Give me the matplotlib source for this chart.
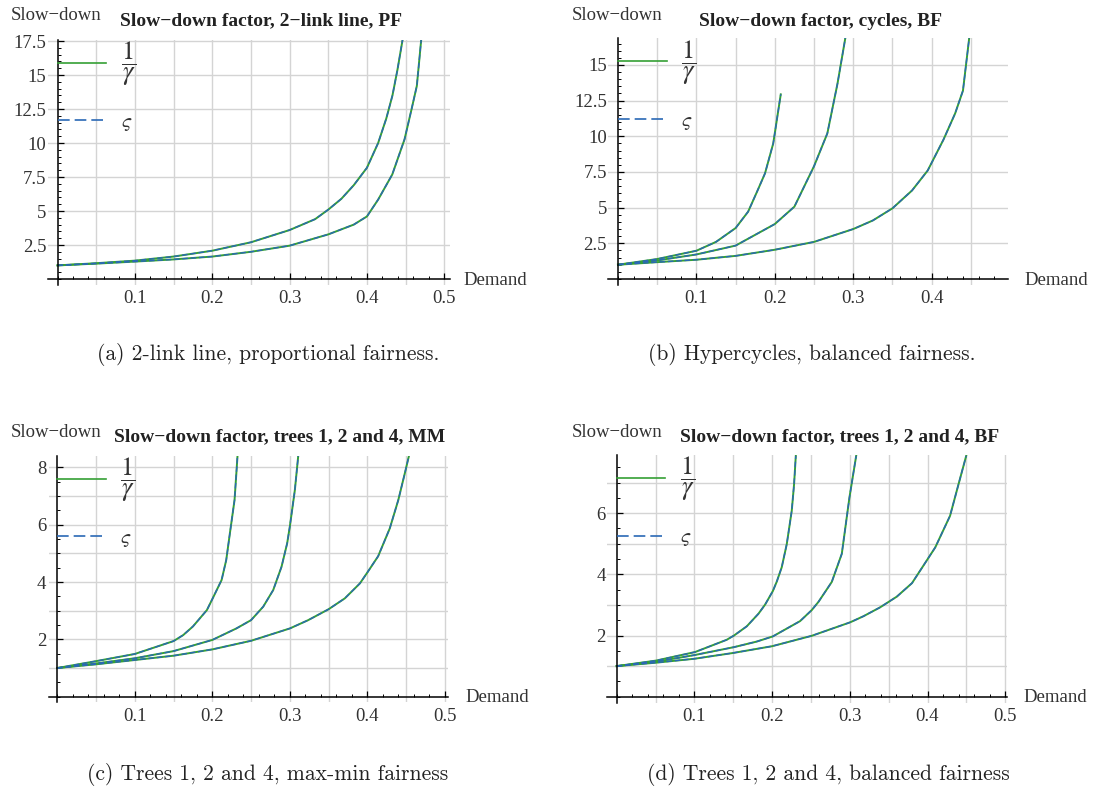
import numpy as np
import matplotlib
matplotlib.use("Agg")
import matplotlib.pyplot as plt
from matplotlib.lines import Line2D
from matplotlib.ticker import FixedLocator, MultipleLocator

plt.rcParams['font.family'] = ['Liberation Serif', 'DejaVu Serif']
plt.rcParams['mathtext.fontset'] = 'stix'

W, H = 1101, 789
GREEN = '#35a035'
BLUE = '#2a68b5'
GRID = '#d4d4d4'

# ---------------------------------------------------------------
# data; 1/gamma and varsigma coincide, so each
# curve is drawn twice (green solid + blue dashed) from the same values
# ---------------------------------------------------------------
# (a) 2-link line, PF
a1_x = [0, 0.05, 0.1, 0.15, 0.2, 0.25, 0.3, 0.333, 0.35, 0.367, 0.383, 0.4, 0.4145, 0.425, 0.433, 0.4395, 0.4464]
a1_y = [1, 1.16, 1.35, 1.65, 2.08, 2.7, 3.6, 4.4, 5.1, 5.9, 6.9, 8.18, 10.0, 11.8, 13.5, 15.4, 17.7]
a2_x = [0, 0.05, 0.1, 0.15, 0.2, 0.25, 0.3, 0.35, 0.383, 0.4, 0.4145, 0.4327, 0.4486, 0.4577, 0.4645, 0.4705]
a2_y = [1, 1.13, 1.28, 1.44, 1.65, 2.0, 2.45, 3.28, 4.0, 4.6, 5.84, 7.68, 10.27, 12.49, 14.2, 17.8]

# (b) hypercycles, BF
b1_x = [0, 0.05, 0.1, 0.125, 0.15, 0.166, 0.178, 0.1875, 0.198, 0.2076]
b1_y = [1, 1.4, 1.98, 2.6, 3.57, 4.72, 6.2, 7.4, 9.5, 12.94]
b2_x = [0, 0.05, 0.1, 0.15, 0.2, 0.225, 0.25, 0.267, 0.28, 0.29]
b2_y = [1, 1.3, 1.72, 2.34, 3.85, 5.07, 7.9, 10.2, 13.7, 16.9]
b3_x = [0, 0.05, 0.1, 0.15, 0.2, 0.25, 0.3, 0.325, 0.35, 0.375, 0.395, 0.415, 0.43, 0.44, 0.448]
b3_y = [1, 1.18, 1.35, 1.62, 2.05, 2.6, 3.5, 4.1, 4.95, 6.2, 7.6, 9.75, 11.6, 13.2, 16.9]

# (c) trees 1, 2 and 4, MM
c1_x = [0, 0.05, 0.1, 0.15, 0.1625, 0.175, 0.193, 0.2016, 0.212, 0.218, 0.2227, 0.2287, 0.2313, 0.2326]
c1_y = [1, 1.24, 1.49, 1.94, 2.15, 2.45, 3.02, 3.49, 4.07, 4.77, 5.7, 6.86, 7.9, 8.43]
c2_x = [0, 0.05, 0.1, 0.15, 0.2, 0.231, 0.25, 0.2657, 0.2786, 0.2893, 0.2966, 0.3, 0.3065, 0.311]
c2_y = [1, 1.16, 1.34, 1.59, 1.98, 2.38, 2.67, 3.14, 3.72, 4.53, 5.35, 5.93, 7.2, 8.43]
c3_x = [0, 0.05, 0.1, 0.15, 0.2, 0.25, 0.3, 0.3237, 0.35, 0.371, 0.3904, 0.4, 0.414, 0.429, 0.44, 0.4484, 0.454]
c3_y = [1, 1.13, 1.28, 1.43, 1.65, 1.95, 2.38, 2.67, 3.05, 3.43, 3.95, 4.33, 4.9, 5.87, 6.86, 7.79, 8.43]

# (d) trees 1, 2 and 4, BF
d1_x = [0, 0.0506, 0.1009, 0.1416, 0.151, 0.1674, 0.1824, 0.191, 0.2009, 0.206, 0.2124, 0.2189, 0.2253, 0.2283, 0.2305]
d1_y = [1, 1.18, 1.46, 1.86, 2.0, 2.3, 2.71, 3.01, 3.45, 3.76, 4.23, 4.99, 6.08, 6.95, 7.87]
d2_x = [0, 0.05, 0.1, 0.151, 0.18, 0.2009, 0.236, 0.251, 0.2597, 0.2768, 0.2897, 0.2996, 0.3082]
d2_y = [1, 1.14, 1.36, 1.62, 1.8, 1.97, 2.47, 2.83, 3.1, 3.75, 4.67, 6.52, 7.87]
d3_x = [0, 0.05, 0.1, 0.15, 0.2, 0.251, 0.3004, 0.3176, 0.339, 0.3605, 0.38, 0.399, 0.41, 0.429, 0.44, 0.4498]
d3_y = [1, 1.11, 1.24, 1.43, 1.65, 1.99, 2.43, 2.63, 2.92, 3.27, 3.71, 4.45, 4.88, 5.91, 6.95, 7.87]

titles = ["Slow\u2212down factor, 2\u2212link line, PF",
          "Slow\u2212down factor, cycles, BF",
          "Slow\u2212down factor, trees 1, 2 and 4, MM",
          "Slow\u2212down factor, trees 1, 2 and 4, BF"]
captions = ["(a) 2-link line, proportional fairness.",
            "(b) Hypercycles, balanced fairness.",
            "(c) Trees 1, 2 and 4, max-min fairness",
            "(d) Trees 1, 2 and 4, balanced fairness"]
xticks_ab = [0.1, 0.2, 0.3, 0.4, 0.5]
xticks_b = [0.1, 0.2, 0.3, 0.4]
yticks_a = [2.5, 5, 7.5, 10, 12.5, 15, 17.5]
yticks_b = [2.5, 5, 7.5, 10, 12.5, 15]
yticks_c = [2, 4, 6, 8]
yticks_d = [2, 4, 6]

panels = [
    dict(curves=[(a1_x, a1_y), (a2_x, a2_y)], xt=xticks_ab, yt=yticks_a, ygrid=2.5,
         x0=57.5, sx=773.6, y0=279, sy=13.6, xlim=(-0.0128, 0.507), ylim=(-0.44, 17.6),
         title_c=(260.5, 21), sd=(10.6, 15), dem=(463, 280), cap=(268, 355)),
    dict(curves=[(b1_x, b1_y), (b2_x, b2_y), (b3_x, b3_y)], xt=xticks_b, yt=yticks_b, ygrid=2.5,
         x0=618, sx=784, y0=279, sy=14.27, xlim=(-0.0125, 0.498), ylim=(-0.4, 16.87),
         title_c=(820.5, 21), sd=(572, 15), dem=(1024, 280), cap=(812, 355)),
    dict(curves=[(c1_x, c1_y), (c2_x, c2_y), (c3_x, c3_y)], xt=xticks_ab, yt=yticks_c, ygrid=1,
         x0=57.3, sx=775, y0=696.7, sy=28.67, xlim=(-0.0113, 0.5045), ylim=(-0.2, 8.41),
         title_c=(280, 437), sd=(10.6, 433), dem=(465, 697), cap=(268, 775)),
    dict(curves=[(d1_x, d1_y), (d2_x, d2_y), (d3_x, d3_y)], xt=xticks_ab, yt=yticks_d, ygrid=1,
         x0=616.7, sx=777, y0=696.7, sy=30.6, xlim=(-0.0126, 0.5025), ylim=(-0.2, 7.9),
         title_c=(839.5, 437), sd=(572, 433), dem=(1023, 697), cap=(828, 775)),
]


def fmt(v):
    return ('%g' % v)


fig = plt.figure(figsize=(W / 100, H / 100), dpi=100)

for i, p in enumerate(panels):
    ax = fig.add_axes([0, 0, 1, 1])
    xl, yl = p['xlim'], p['ylim']
    left = p['x0'] + xl[0] * p['sx']
    right = p['x0'] + xl[1] * p['sx']
    top = p['y0'] - yl[1] * p['sy']
    bottom = p['y0'] - yl[0] * p['sy']
    ax.set_position([left / W, 1 - bottom / H, (right - left) / W, (bottom - top) / H])
    ax.set_xlim(*xl)
    ax.set_ylim(*yl)
    ax.patch.set_visible(False)

    # grid (every 0.05 in x, every major step in y)
    for g in np.arange(0.05, xl[1] + 1e-9, 0.05):
        ax.axvline(g, color=GRID, lw=1.0, zorder=0)
    for g in np.arange(p['ygrid'], yl[1] + 1e-9, p['ygrid']):
        ax.axhline(g, color=GRID, lw=1.0, zorder=0)

    for cx, cy in p['curves']:
        ax.plot(cx, cy, color=GREEN, lw=1.4, zorder=3)
        ax.plot(cx, cy, color=BLUE, lw=1.0, dashes=(4, 2), zorder=4)

    for s in ('top', 'right'):
        ax.spines[s].set_visible(False)
    for s in ('left', 'bottom'):
        ax.spines[s].set_position(('data', 0))
        ax.spines[s].set_linewidth(1.1)
        ax.spines[s].set_zorder(5)

    ax.xaxis.set_major_locator(FixedLocator(p['xt']))
    ax.set_xticklabels([fmt(v) for v in p['xt']])
    ax.yaxis.set_major_locator(FixedLocator(p['yt']))
    ax.set_yticklabels([fmt(v) for v in p['yt']])
    ax.xaxis.set_minor_locator(MultipleLocator(0.02))
    ax.yaxis.set_minor_locator(MultipleLocator(0.5))
    ax.tick_params(which='both', direction='in', labelsize=13.5, labelcolor='#333333')
    ax.tick_params(which='major', length=4.5, width=0.9)
    ax.tick_params(which='minor', length=2.3, width=0.7)
    ax.tick_params(axis='x', which='both', pad=8)
    ax.tick_params(axis='y', which='both', pad=8)

    h1 = Line2D([], [], color=GREEN, lw=1.2)
    h2 = Line2D([], [], color=BLUE, lw=1.2, dashes=(7, 3))
    ox = (0 - xl[0]) / (xl[1] - xl[0])
    leg = ax.legend([h1, h2], [r'$\dfrac{1}{\gamma}$', r'$\varsigma$'], loc='upper left',
                    bbox_to_anchor=(ox, 1.0), frameon=False, fontsize=14,
                    handlelength=2.5, handletextpad=0.75, labelspacing=1.3,
                    borderpad=0, borderaxespad=0)
    leg.get_texts()[0].set_fontsize(19)
    leg.get_texts()[1].set_fontsize(15)
    for t in leg.get_texts():
        t.set_color('#333333')

    tx, ty = p['title_c']
    fig.text(tx / W, 1 - ty / H, titles[i], ha='center', va='center',
             fontsize=14, fontweight='bold', color='#222222')
    sx_, sy_ = p['sd']
    fig.text(sx_ / W, 1 - sy_ / H, "Slow\u2212down", ha='left', va='center',
             fontsize=13.5, color='#333333')
    dx, dy = p['dem']
    fig.text(dx / W, 1 - dy / H, "Demand", ha='left', va='center',
             fontsize=13.5, color='#333333')
    cx_, cy_ = p['cap']
    fig.text(cx_ / W, 1 - cy_ / H, captions[i], ha='center', va='center',
             fontsize=15.5, family='cmr10', color='#222222')

fig.savefig('out.png', dpi=100)
